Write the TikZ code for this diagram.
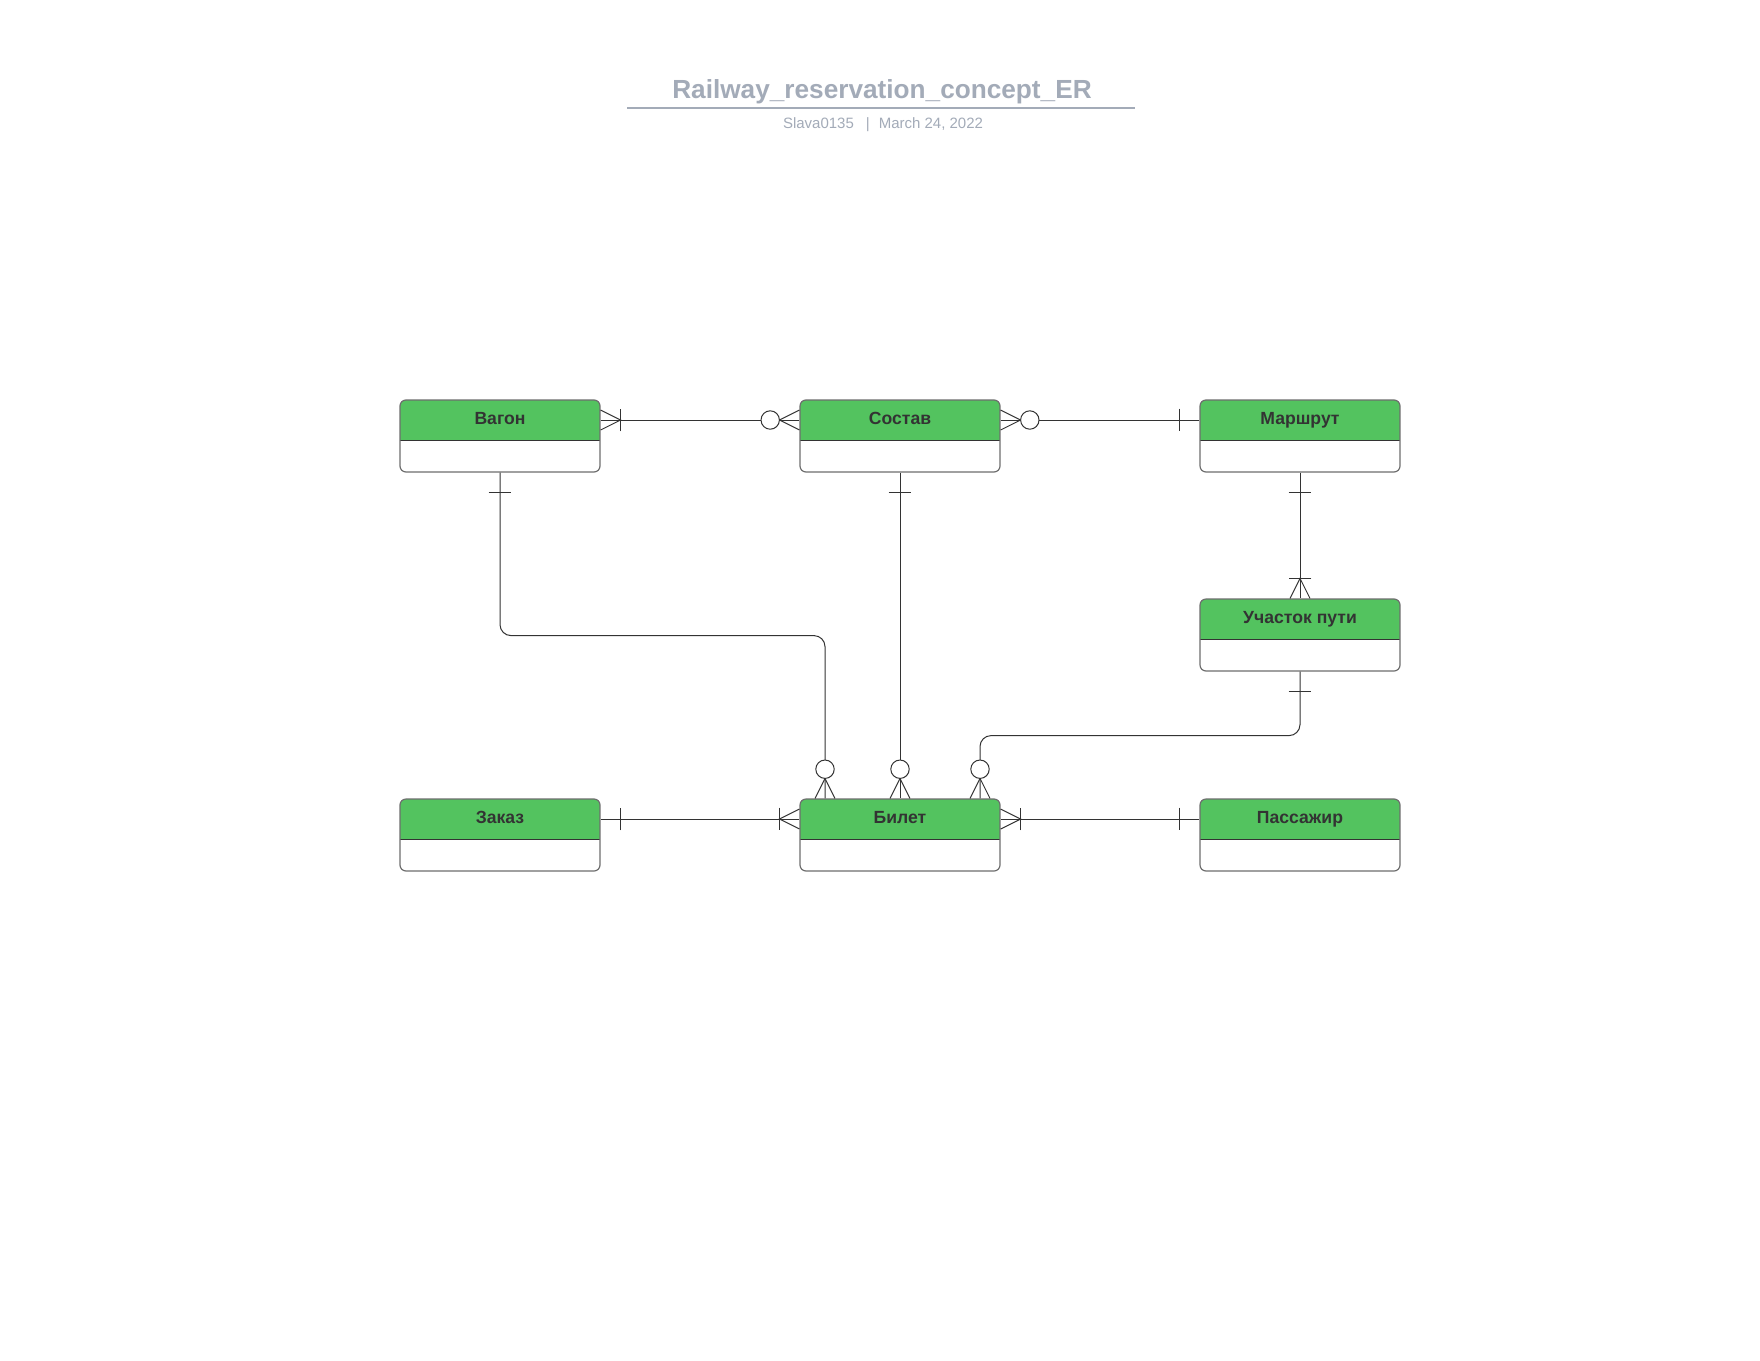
\documentclass[tikz,border=0pt]{standalone}
\usepackage{fontspec}
\setmainfont{Liberation Sans}
\usetikzlibrary{calc}
\definecolor{HeadGreen}{HTML}{53C35F}
\definecolor{EdgeGray}{HTML}{6E6E6E}
\definecolor{LineDark}{HTML}{333333}
\definecolor{TitleGray}{HTML}{A3ABB8}
\tikzset{
  entity/.style={draw=EdgeGray, line width=0.6pt, rounded corners=3pt, fill=white,
    minimum width=100pt, minimum height=36pt, inner sep=0pt, text height=12pt, text depth=24pt,
    text=LineDark, font=\fontsize{8.8}{10}\selectfont\bfseries,
    path picture={
      \fill[HeadGreen, sharp corners] (path picture bounding box.north west) rectangle ([yshift=-20pt]path picture bounding box.north east);
      \draw[LineDark, line width=0.5pt, sharp corners] ([yshift=-20pt]path picture bounding box.north west) -- ([yshift=-20pt]path picture bounding box.north east);}},
  link/.style={draw=LineDark, line width=0.5pt},
  barone/.pic={\draw[link] (10pt,-5.7pt) -- (10pt,5.7pt);},
  crowone/.pic={\draw[link] (0,5pt) -- (10pt,0) -- (0,-5pt); \draw[link] (10pt,-5.7pt) -- (10pt,5.7pt);},
  crowzero/.pic={\draw[link] (0,5pt) -- (10pt,0) -- (0,-5pt); \draw[link, fill=white] (14.6pt,0) circle (4.6pt);}
}
\begin{document}
\begin{tikzpicture}[x=0.5pt, y=-0.5pt]
  \useasboundingbox[fill=white] (0,0) rectangle (1760,1360);

  % title block
  \node[anchor=base, text=TitleGray, font=\fontsize{13.1}{15}\selectfont\bfseries] (title) at (882,98.5) {Railway\_reservation\_concept\_ER};
  \draw[TitleGray, line width=0.8pt] (627,108) -- (1135,108);
  \node[anchor=base, text=TitleGray, font=\fontsize{7.5}{9}\selectfont] (meta) at (883,128.5) {Slava0135\hspace{6pt}|\hspace{4.5pt}March 24, 2022};

  % entities
  \node[entity] (vagon) at (500,436) {Вагон};
  \node[entity] (sostav) at (900,436) {Состав};
  \node[entity] (marshrut) at (1300,436) {Маршрут};
  \node[entity] (uchastok) at (1300,635) {Участок пути};
  \node[entity] (zakaz) at (500,835) {Заказ};
  \node[entity] (bilet) at (900,835) {Билет};
  \node[entity] (passazhir) at (1300,835) {Пассажир};

  % relations
  \draw[link] ([yshift=8pt]vagon.east) -- ([yshift=8pt]sostav.west);
  \pic at ([yshift=8pt]vagon.east) {crowone};
  \pic[rotate=180] at ([yshift=8pt]sostav.west) {crowzero};

  \draw[link] ([yshift=8pt]sostav.east) -- ([yshift=8pt]marshrut.west);
  \pic at ([yshift=8pt]sostav.east) {crowzero};
  \pic[rotate=180] at ([yshift=8pt]marshrut.west) {barone};

  \draw[link, rounded corners=5.5pt] (vagon.south) -- ++(0,163) -| ([xshift=-37.5pt]bilet.north);
  \pic[rotate=-90] at (vagon.south) {barone};
  \pic[rotate=90] at ([xshift=-37.5pt]bilet.north) {crowzero};

  \draw[link] (sostav.south) -- (bilet.north);
  \pic[rotate=-90] at (sostav.south) {barone};
  \pic[rotate=90] at (bilet.north) {crowzero};

  \draw[link] (marshrut.south) -- (uchastok.north);
  \pic[rotate=-90] at (marshrut.south) {barone};
  \pic[rotate=90] at (uchastok.north) {crowone};

  \draw[link, rounded corners=5.5pt] (uchastok.south) -- ++(0,64) -| ([xshift=40pt]bilet.north);
  \pic[rotate=-90] at (uchastok.south) {barone};
  \pic[rotate=90] at ([xshift=40pt]bilet.north) {crowzero};

  \draw[link] ([yshift=8pt]zakaz.east) -- ([yshift=8pt]bilet.west);
  \pic at ([yshift=8pt]zakaz.east) {barone};
  \pic[rotate=180] at ([yshift=8pt]bilet.west) {crowone};

  \draw[link] ([yshift=8pt]bilet.east) -- ([yshift=8pt]passazhir.west);
  \pic at ([yshift=8pt]bilet.east) {crowone};
  \pic[rotate=180] at ([yshift=8pt]passazhir.west) {barone};
\end{tikzpicture}
\end{document}
